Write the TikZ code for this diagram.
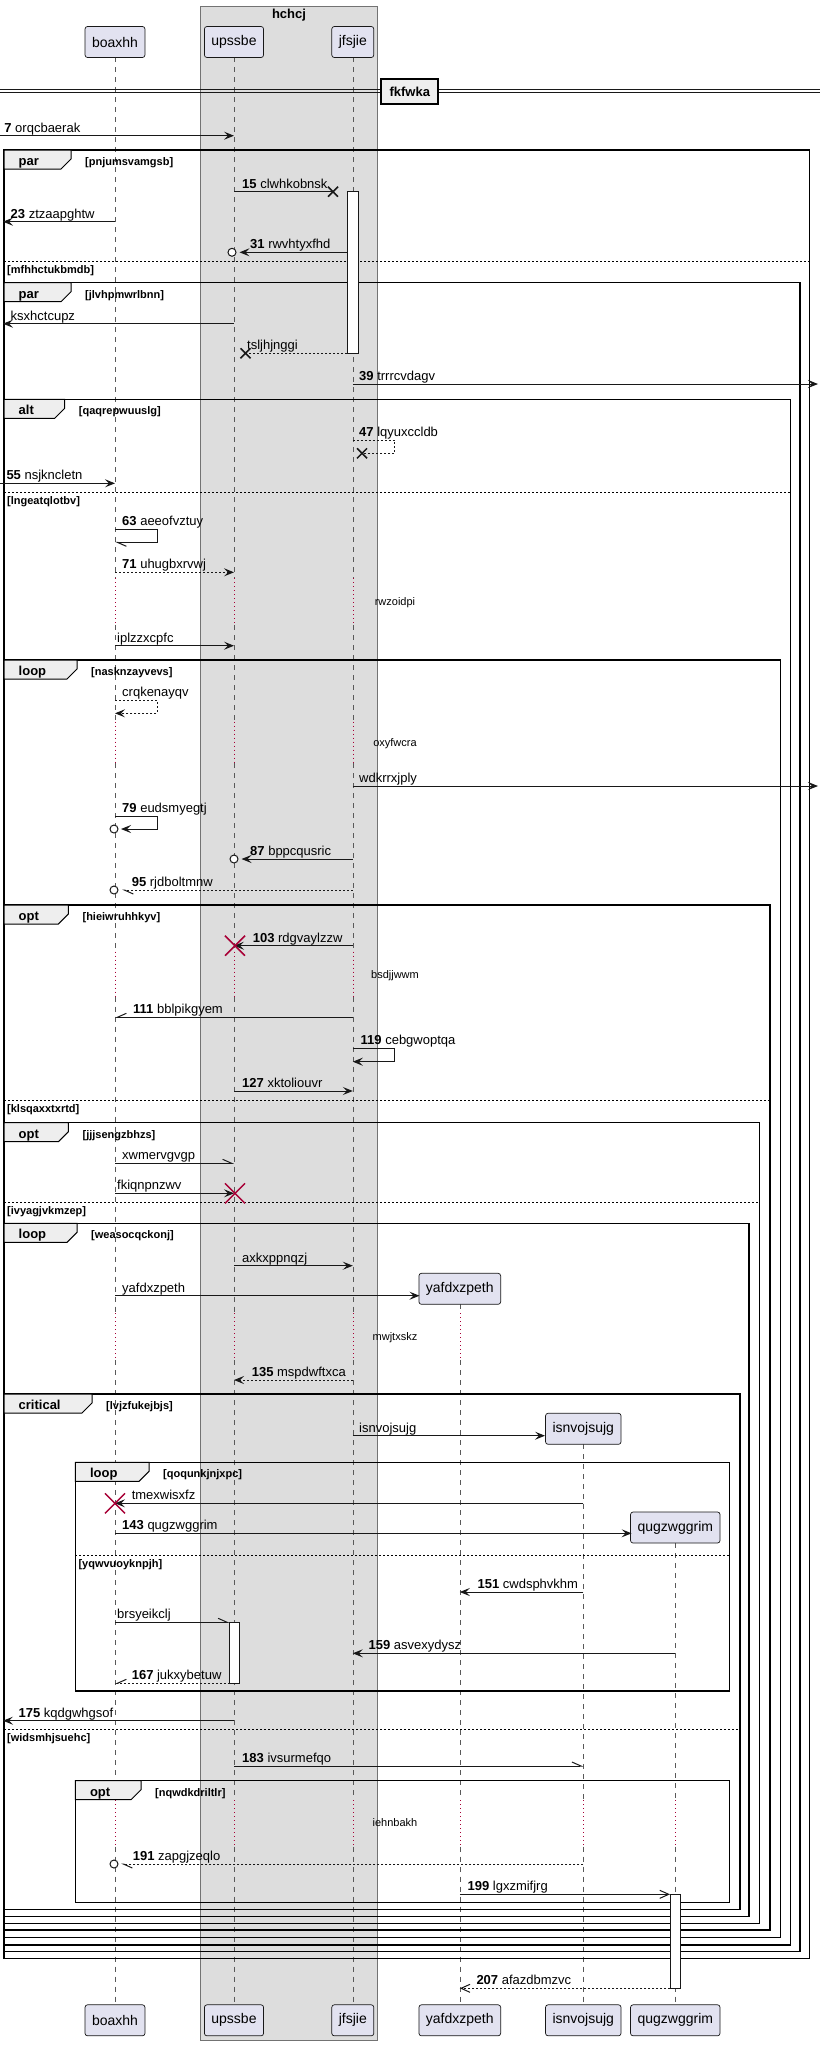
\documentclass[tikz,border=0pt]{standalone}
\usepackage{fontspec}
\setmainfont{Liberation Sans}
\usetikzlibrary{arrows.meta}
\definecolor{pbox}{HTML}{E2E2F0}
\definecolor{grpc}{HTML}{DDDDDD}
\definecolor{lnc}{HTML}{181818}
\definecolor{dred}{HTML}{A80036}
\definecolor{tabf}{HTML}{EEEEEE}
\newcommand\fmsz{\fontsize{13}{15}\selectfont}
\newcommand\fgsz{\fontsize{11}{13}\selectfont}
\newcommand\fpsz{\fontsize{14}{16}\selectfont}
\tikzset{
  part/.style={draw=lnc, line width=0.7pt, fill=pbox, rounded corners=2.5pt, minimum height=31pt, inner xsep=7pt, inner ysep=0pt, font=\fpsz},
  frm/.style={draw=black, line width=1.5pt},
  sepl/.style={draw=black, line width=1pt, dash pattern=on 2pt off 2pt},
  tabl/.style={anchor=base west, inner sep=0pt, font=\fmsz\bfseries},
  grdl/.style={anchor=base west, inner sep=0pt, font=\fgsz\bfseries},
  msgl/.style={anchor=base west, inner sep=0pt, font=\fmsz},
  dlyl/.style={inner sep=0pt, font=\fgsz},
  msg/.style={draw=lnc, line width=1pt},
  dsh/.style={dash pattern=on 2pt off 2pt},
  fa/.style={-{Stealth[length=10pt,width=8pt,inset=4pt]}},
  oa/.style={-{Straight Barb[length=9pt,width=8pt]}},
  hl/.style={-{Straight Barb[length=9pt,width=8pt,harpoon]}},
  hr/.style={-{Straight Barb[length=9pt,width=8pt,harpoon,swap]}},
  life/.style={draw=black!65, line width=0.6pt, dash pattern=on 5pt off 5pt},
  dly/.style={draw=dred, line width=0.6pt, dash pattern=on 1pt off 3pt},
  actb/.style={draw=lnc, fill=white, line width=1pt}
}
\newcommand\sdframe[8]{%
  \draw[frm] (#2,#3) rectangle (#4,#5);
  \draw[frm, fill=tabf, line width=1pt] (#2,#3) -- (#6,#3) -- (#6,#3+9) -- (#6-10,#3+19) -- (#2,#3+19) -- cycle;
  \node[tabl] (#1k) at (#2+14.5,#3+15.5) {#7};
  \node[grdl] (#1g) at (#6+14,#3+15.5) {[#8]};
}
\newcommand\sdelse[5]{%
  \draw[sepl] (#2,#4) -- (#3,#4);
  \node[grdl] (#1) at (#2+3,#4+12) {[#5]};
}
\newcommand\sdmsg[7]{%
  \coordinate (#1a) at (#2,#4);
  \coordinate (#1b) at (#3,#4);
  \draw[msg,#5] (#1a) -- (#1b);
  \node[msgl] (#1t) at (#6,#4-3.5) {#7};
}
\newcommand\sdself[8]{%
  \coordinate (#1a) at (#2,#3);
  \coordinate (#1b) at (#5,#4);
  \draw[msg,#6] (#1a) -- ++(42,0) -- ++(0,#4-#3) -- (#1b);
  \node[msgl] (#1t) at (#7,#3-4) {#8};
}
\newcommand\blkx[2]{\draw[lnc,line width=1.5pt] (#1-5,#2-5) -- (#1+5,#2+5) (#1-5,#2+5) -- (#1+5,#2-5);}
\newcommand\redx[2]{\draw[dred,line width=1.5pt] (#1-10,#2-10) -- (#1+10,#2+10) (#1-10,#2+10) -- (#1+10,#2-10);}
\newcommand\ringmark[2]{\draw[lnc,line width=1pt,fill=white] (#1,#2) circle[radius=4pt];}
\begin{document}
\begin{tikzpicture}[x=1pt,y=-1pt]
\useasboundingbox (0,0) rectangle (825,2046);
\fill[white] (0,0) rectangle (825,2046);
% group box
\draw[fill=grpc, draw=black!55, line width=0.7pt] (200.5,6) rectangle (377,2040.7);
\node[font=\fmsz\bfseries, inner sep=0pt] (grpT) at (289,15) {hchcj};
% lifelines
\foreach \x in {115,234,352.8}{
  \foreach \a/\b in {57.3/578.3, 625/721.7, 763.3/951.7, 996.7/1313, 1360/1800, 1846.7/2005}{\draw[life] (\x,\a) -- (\x,\b);}
  \foreach \a/\b in {578.3/625, 721.7/763.3, 951.7/996.7, 1313/1360, 1800/1846.7}{\draw[dly] (\x,\a) -- (\x,\b);}
}
\foreach \a/\b in {1304.3/1313, 1360/1800, 1846.7/2005}{\draw[life] (459.8,\a) -- (459.8,\b);}
\foreach \a/\b in {1313/1360, 1800/1846.7}{\draw[dly] (459.8,\a) -- (459.8,\b);}
\draw[life] (583.3,1444.3) -- (583.3,1800);
\draw[life] (583.3,1846.7) -- (583.3,2005);
\draw[dly] (583.3,1800) -- (583.3,1846.7);
\draw[life] (675.3,1543) -- (675.3,1800);
\draw[life] (675.3,1846.7) -- (675.3,2005);
\draw[dly] (675.3,1800) -- (675.3,1846.7);
% participants
\node[part] (pA) at (115,42) {boaxhh};
\node[part] (pU) at (234,42) {upssbe};
\node[part] (pJ) at (352.8,42) {jfsjie};
\node[part] (bA) at (115,2020.3) {boaxhh};
\node[part] (bU) at (234,2020.3) {upssbe};
\node[part] (bJ) at (352.8,2020.3) {jfsjie};
\node[part] (bY) at (459.8,2020.3) {yafdxzpeth};
\node[part] (bI) at (583.3,2020.3) {isnvojsujg};
\node[part] (bQ) at (675.3,2020.3) {qugzwggrim};
\node[part] (pY) at (459.8,1288.8) {yafdxzpeth};
\node[part] (pI) at (583.3,1428.8) {isnvojsujg};
\node[part] (pQ) at (675.3,1527.5) {qugzwggrim};
% divider
\draw[lnc, line width=1pt] (0,89.5) -- (820,89.5) (0,92.5) -- (820,92.5);
\node[draw=black, line width=2pt, fill=tabf, minimum width=57pt, minimum height=25pt, inner sep=0pt, font=\fmsz\bfseries] (div) at (409.75,91.5) {fkfwka};
% frames
\sdframe{f1}{4}{150}{809.5}{1958.3}{71}{par}{pnjumsvamgsb}
\sdelse{e1}{4}{809.5}{261}{mfhhctukbmdb}
\sdframe{f2}{4}{282.7}{800}{1951.7}{71}{par}{jlvhpmwrlbnn}
\sdframe{f3}{4}{399.3}{790.5}{1945}{64.7}{alt}{qaqrepwuuslg}
\sdelse{e2}{4}{790.5}{492.3}{lngeatqlotbv}
\sdframe{f4}{4}{660}{780.5}{1937.7}{77}{loop}{nasknzayvevs}
\sdframe{f5}{4}{905}{770}{1930}{68.4}{opt}{hieiwruhhkyv}
\sdelse{e3}{4}{770}{1100}{klsqaxxtxrtd}
\sdframe{f6}{4}{1122.7}{759.5}{1923.3}{68.4}{opt}{jjjsengzbhzs}
\sdelse{e4}{4}{759.5}{1202.3}{ivyagjvkmzep}
\sdframe{f7}{4}{1223.3}{749}{1916.7}{77}{loop}{weasocqckonj}
\sdframe{f8}{4}{1394}{740}{1909.3}{92}{critical}{lvjzfukejbjs}
\sdelse{e6}{4}{740}{1729.3}{widsmhjsuehc}
\sdframe{f9}{75.3}{1462.3}{729.5}{1691}{149}{loop}{qoqunkjnjxpc}
\sdelse{e5}{75.3}{729.5}{1555}{yqwvuoyknpjh}
\sdframe{f10}{75.3}{1780.7}{729.5}{1902.3}{141}{opt}{nqwdkdriltlr}
% activation bars
\draw[actb] (347,191.7) rectangle (358,353.3);
\draw[actb] (229.5,1622.3) rectangle (239.5,1683.3);
\draw[actb] (670,1894.3) rectangle (680.5,1988.3);
% messages
\sdmsg{m7}{0}{234}{135.7}{fa}{4.2}{\textbf{7} orqcbaerak}
\sdmsg{m15}{234}{333}{191.7}{}{242}{\textbf{15} clwhkobnsk}
\blkx{333}{191.7}
\sdmsg{m23}{115}{3}{221.7}{fa}{10.5}{\textbf{23} ztzaapghtw}
\sdmsg{m31}{347}{239.5}{252.3}{fa}{250}{\textbf{31} rwvhtyxfhd}
\ringmark{232}{252.3}
\sdmsg{mk}{234}{3}{323.7}{fa}{10.5}{ksxhctcupz}
\sdmsg{mts}{347}{245.5}{353.3}{dsh}{247}{tsljhjnggi}
\blkx{245.5}{353.3}
\sdmsg{m39}{352.8}{818}{384}{fa}{359}{\textbf{39} trrrcvdagv}
\coordinate (m47a) at (352.8,440);
\coordinate (m47b) at (362,453.3);
\draw[msg,dsh] (m47a) -- ++(42,0) -- ++(0,13.3) -- (m47b);
\blkx{362}{453.3}
\node[msgl] (m47t) at (359,436) {\textbf{47} lqyuxccldb};
\sdmsg{m55}{0}{115}{483.3}{fa}{6.3}{\textbf{55} nsjkncletn}
\sdself{m63}{115}{529.3}{542.3}{115}{hl}{122}{\textbf{63} aeeofvztuy}
\sdmsg{m71}{115}{234}{572.3}{dsh,fa}{122}{\textbf{71} uhugbxrvwj}
\node[dlyl] (d1) at (395,602.7) {rwzoidpi};
\sdmsg{mip}{115}{234}{645.7}{fa}{117}{iplzzxcpfc}
\sdself{mcr}{115}{700}{713.3}{115}{dsh,fa}{122}{crqkenayqv}
\node[dlyl] (d2) at (395,743.3) {oxyfwcra};
\sdmsg{mwd}{352.8}{818}{786}{fa}{359}{wdkrrxjply}
\sdself{m79}{115}{816}{829}{121}{fa}{122}{\textbf{79} eudsmyegtj}
\ringmark{114}{829}
\sdmsg{m87}{352.8}{241.5}{859}{fa}{250}{\textbf{87} bppcqusric}
\ringmark{234}{859}
\sdmsg{m95}{352.8}{122}{890}{dsh,hl}{131.6}{\textbf{95} rjdboltmnw}
\ringmark{114}{890}
\sdmsg{m103}{352.8}{234}{945.7}{fa}{252.6}{\textbf{103} rdgvaylzzw}
\redx{235}{945.7}
\node[dlyl] (d3) at (395,976) {bsdjjwwm};
\sdmsg{m111}{352.8}{115}{1017.3}{hr}{133}{\textbf{111} bblpikgyem}
\sdself{m119}{352.8}{1048.3}{1061.7}{352.8}{fa}{360.5}{\textbf{119} cebgwoptqa}
\sdmsg{m127}{234}{352.8}{1091}{fa}{242}{\textbf{127} xktoliouvr}
\sdmsg{mxw}{115}{234}{1163.3}{hl}{122}{xwmervgvgp}
\sdmsg{mfk}{115}{234}{1193.3}{fa}{117}{fkiqnpnzwv}
\redx{235}{1193.3}
\sdmsg{max}{234}{352.8}{1265.7}{fa}{242}{axkxppnqzj}
\sdmsg{mya}{115}{419.5}{1295.7}{fa}{122}{yafdxzpeth}
\node[dlyl] (d4) at (395,1337.3) {mwjtxskz};
\sdmsg{m135}{352.8}{234}{1380}{dsh,fa}{251.6}{\textbf{135} mspdwftxca}
\sdmsg{mis}{352.8}{545}{1435.7}{fa}{359}{isnvojsujg}
\sdmsg{mtm}{583.3}{115}{1503.3}{fa}{131.6}{tmexwisxfz}
\redx{115}{1503.3}
\sdmsg{m143}{115}{631.6}{1533.3}{fa}{122}{\textbf{143} qugzwggrim}
\sdmsg{m151}{583.3}{459.8}{1592}{fa}{477.4}{\textbf{151} cwdsphvkhm}
\sdmsg{mbr}{115}{229.5}{1622.3}{hl}{117}{brsyeikclj}
\sdmsg{m159}{675.3}{352.8}{1653.3}{fa}{368.4}{\textbf{159} asvexydysz}
\sdmsg{m167}{229.5}{115}{1683.3}{dsh,hr}{131.6}{\textbf{167} jukxybetuw}
\sdmsg{m175}{234}{3}{1720.7}{fa}{18.4}{\textbf{175} kqdgwhgsof}
\sdmsg{m183}{234}{583.3}{1766}{hl}{242}{\textbf{183} ivsurmefqo}
\node[dlyl] (d5) at (395,1822.7) {iehnbakh};
\sdmsg{m191}{583.3}{121}{1864}{dsh,hl}{132.6}{\textbf{191} zapgjzeqlo}
\ringmark{114}{1864}
\sdmsg{m199}{459.8}{670}{1894.3}{oa}{467.4}{\textbf{199} lgxzmifjrg}
\sdmsg{m207}{670}{459.8}{1988.3}{dsh,oa}{476.3}{\textbf{207} afazdbmzvc}
\end{tikzpicture}
\end{document}
